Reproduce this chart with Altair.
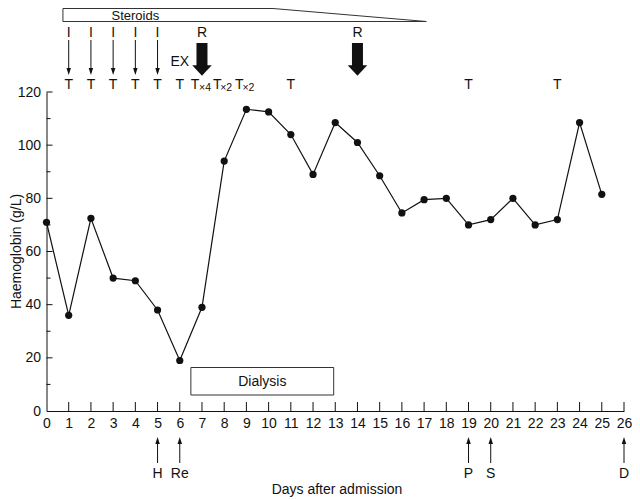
import altair as alt
import pandas as pd

# ---------------- data ----------------
days = list(range(26))
hb = [71, 36, 72.5, 50, 49, 38, 19, 39, 94, 113.5, 112.5, 104, 89, 108.5,
      101, 88.5, 74.5, 79.5, 80, 70, 72, 80, 70, 72, 108.5, 81.5]

t_days = [1, 2, 3, 4, 5, 6, 7, 8, 9, 11, 19, 23]
t_subs = ["", "", "", "", "", "", "×4", "×2", "×2", "", "", ""]
i_days = [1, 2, 3, 4, 5]
r_days = [7, 14]
ex_days = [6]
event_days = [5, 6, 19, 20, 26]
event_labels = ["H", "Re", "P", "S", "D"]
dialysis_days = [6.5, 12.93]
steroid_days = [0.74, 10.2, 17.1]   # start, taper start, end

x_ticks = list(range(0, 27))
y_major = [0, 20, 40, 60, 80, 100, 120]
y_minor = [10, 30, 50, 70, 90, 110]

# ---------------- geometry helpers ----------------
LEFT = 38.5
RIGHT = 8
W, H = 624 - LEFT - RIGHT, 319
PLOT_X0 = 8 + LEFT     # page x of plot left
PLOT_TOP = 92          # page y of plot top
PLOT_BOTTOM = PLOT_TOP + H
PX_DAY = W / 26
PX_UNIT = H / 120


def py(page_y):
    """page y -> data units of haemoglobin scale"""
    return (PLOT_BOTTOM - page_y) / PX_UNIT


def dday(px):
    return px / PX_DAY


FONT = "Liberation Sans"
INK = "#111"

xs = alt.Scale(domain=[0, 26], nice=False, zero=False)
ys = alt.Scale(domain=[0, 120], nice=False, zero=False)

AX = alt.Axis(
    values=x_ticks, ticks=False, grid=False, title=None, format="d",
    domainColor=INK, domainWidth=1, labelFont=FONT, labelFontSize=14,
    labelColor=INK, labelPadding=5, labelFlush=False, labelOverlap=False)
AY = alt.Axis(
    values=y_major, ticks=False, grid=False, title=None, format="d",
    domainColor=INK, domainWidth=1, labelFont=FONT, labelFontSize=14,
    labelColor=INK, labelPadding=6, labelFlush=False, labelOverlap=False)


def X(f="x"):
    return alt.X(f + ":Q", scale=xs, axis=AX)


def Y(f="y"):
    return alt.Y(f + ":Q", scale=ys, axis=AY)


# ---------------- main series ----------------
df = pd.DataFrame({"day": days, "hb": hb})
line = alt.Chart(df).mark_line(color=INK, strokeWidth=1.2).encode(x=X("day"), y=Y("hb"))
pts = alt.Chart(df).mark_point(filled=True, size=52, color=INK, opacity=1).encode(
    x=X("day"), y=Y("hb"))

# ---------------- axis ticks (inward) ----------------
xt = alt.Chart(pd.DataFrame({"x": x_ticks[1:]})).mark_rule(color=INK, strokeWidth=1).encode(
    x=X(), y=alt.value(H), y2=alt.value(H - 9))
ytM = alt.Chart(pd.DataFrame({"y": y_major[1:]})).mark_rule(color=INK, strokeWidth=1).encode(
    y=Y(), x=alt.value(0), x2=alt.value(6))
ytm = alt.Chart(pd.DataFrame({"y": y_minor})).mark_rule(color=INK, strokeWidth=1).encode(
    y=Y(), x=alt.value(0), x2=alt.value(4))

# ---------------- steroids box ----------------
s0, s1, s2 = steroid_days
st_top, st_bot = py(8.5), py(21.5)
steroid_df = pd.DataFrame({
    "x": [s0, s1, s2, s0, s0],
    "y": [st_top, st_top, st_bot, st_bot, st_top],
    "o": [0, 1, 2, 3, 4]})
steroid = alt.Chart(steroid_df).mark_line(color="#333", strokeWidth=1).encode(
    x=X(), y=Y(), order="o:Q")
steroid_txt = alt.Chart(pd.DataFrame({"x": [4.0], "y": [py(15.5)], "t": ["Steroids"]})).mark_text(
    font=FONT, fontSize=13, color=INK, baseline="middle").encode(x=X(), y=Y(), text="t:N")

# ---------------- I arrows ----------------
i_df = pd.DataFrame({"x": i_days, "t": ["I"] * len(i_days),
                     "ylab": py(33), "y1": py(40), "y2": py(70), "yh": py(71.5)})
i_txt = alt.Chart(i_df).mark_text(font=FONT, fontSize=14, color=INK, baseline="middle").encode(
    x=X(), y=Y("ylab"), text="t:N")
i_shaft = alt.Chart(i_df).mark_rule(color=INK, strokeWidth=1).encode(x=X(), y=Y("y1"), y2="y2:Q")
i_head = alt.Chart(i_df).mark_point(shape="M-0.64,-1L0.64,-1L0,1Z", size=49, filled=True,
                                     color=INK, opacity=1).encode(x=X(), y=Y("yh"))

# ---------------- R arrows ----------------
r_df = pd.DataFrame({"x": r_days, "t": ["R"] * len(r_days),
                     "ylab": py(33), "y1": py(43), "y2": py(66), "yh": py(70.5)})
r_txt = alt.Chart(r_df).mark_text(font=FONT, fontSize=14, color=INK, baseline="middle").encode(
    x=X(), y=Y("ylab"), text="t:N")
r_shaft = alt.Chart(r_df).mark_rule(color=INK, strokeWidth=11).encode(x=X(), y=Y("y1"), y2="y2:Q")
r_head = alt.Chart(r_df).mark_point(shape="M-1,-0.55L1,-0.55L0,0.55Z", size=380, filled=True,
                                     color=INK, opacity=1).encode(x=X(), y=Y("yh"))

ex_txt = alt.Chart(pd.DataFrame({"x": ex_days, "y": py(61.5), "t": ["EX"]})).mark_text(
    font=FONT, fontSize=14, color=INK, baseline="middle").encode(x=X(), y=Y(), text="t:N")

# ---------------- T row ----------------
t_x = [d + (dday(-7) if s else 0) for d, s in zip(t_days, t_subs)]
t_df = pd.DataFrame({"x": t_x, "y": py(85), "t": ["T"] * len(t_days)})
t_txt = alt.Chart(t_df).mark_text(font=FONT, fontSize=14, color=INK, baseline="middle").encode(
    x=X(), y=Y(), text="t:N")
sub_rows = [(d + dday(3 if s == "×4" else 2), s) for d, s in zip(t_days, t_subs) if s]
sub_df = pd.DataFrame({"x": [r[0] for r in sub_rows], "y": py(87.5),
                       "t": [r[1] for r in sub_rows]})
sub_txt = alt.Chart(sub_df).mark_text(font=FONT, fontSize=10.5, color=INK, baseline="middle").encode(
    x=X(), y=Y(), text="t:N")

# ---------------- dialysis box ----------------
dia_df = pd.DataFrame({"x": [dialysis_days[0]], "x2": [dialysis_days[1]],
                       "y": [py(367.5)], "y2": [py(395)]})
dia = alt.Chart(dia_df).mark_rect(fill="white", stroke="#333", strokeWidth=1).encode(
    x=X(), x2="x2:Q", y=Y(), y2="y2:Q")
dia_txt = alt.Chart(pd.DataFrame({"x": [sum(dialysis_days) / 2], "y": [py(381.5)],
                                  "t": ["Dialysis"]})).mark_text(
    font=FONT, fontSize=14, color=INK, baseline="middle").encode(x=X(), y=Y(), text="t:N")

# ---------------- bottom events ----------------
ev_df = pd.DataFrame({"x": event_days, "t": event_labels,
                      "ylab": py(473.5), "y1": py(463), "y2": py(441), "yh": py(440.5)})
ev_shaft = alt.Chart(ev_df).mark_rule(color=INK, strokeWidth=1).encode(x=X(), y=Y("y1"), y2="y2:Q")
ev_head = alt.Chart(ev_df).mark_point(shape="M-0.64,1L0.64,1L0,-1Z", size=49, filled=True,
                                      color=INK, opacity=1).encode(x=X(), y=Y("yh"))
ev_txt = alt.Chart(ev_df).mark_text(font=FONT, fontSize=14, color=INK, baseline="middle").encode(
    x=X(), y=Y("ylab"), text="t:N")

# ---------------- axis titles ----------------
xtitle = alt.Chart(pd.DataFrame({"t": ["Days after admission"]})).mark_text(
    font=FONT, fontSize=14, color=INK, baseline="middle").encode(
    x=alt.value(337 - PLOT_X0), y=alt.value(490 - PLOT_TOP), text="t:N")
ytitle = alt.Chart(pd.DataFrame({"t": ["Haemoglobin (g/L)"]})).mark_text(
    font=FONT, fontSize=14, color=INK, baseline="middle", angle=270).encode(
    x=alt.value(16.5 - PLOT_X0), y=alt.value(H / 2), text="t:N")

chart = alt.layer(
    line, steroid, steroid_txt, i_txt, i_shaft, i_head, r_txt, r_shaft, r_head, ex_txt,
    t_txt, sub_txt, dia, dia_txt, ev_shaft, ev_head, ev_txt, xt, ytM, ytm, pts,
    xtitle, ytitle
).properties(
    width=W, height=H,
    autosize=alt.AutoSizeParams(type="none"),
    padding={"left": LEFT, "top": 84, "right": RIGHT, "bottom": 86},
).configure_view(stroke=None)

chart.save("out.html", embed_options={"renderer": "svg", "actions": False})
